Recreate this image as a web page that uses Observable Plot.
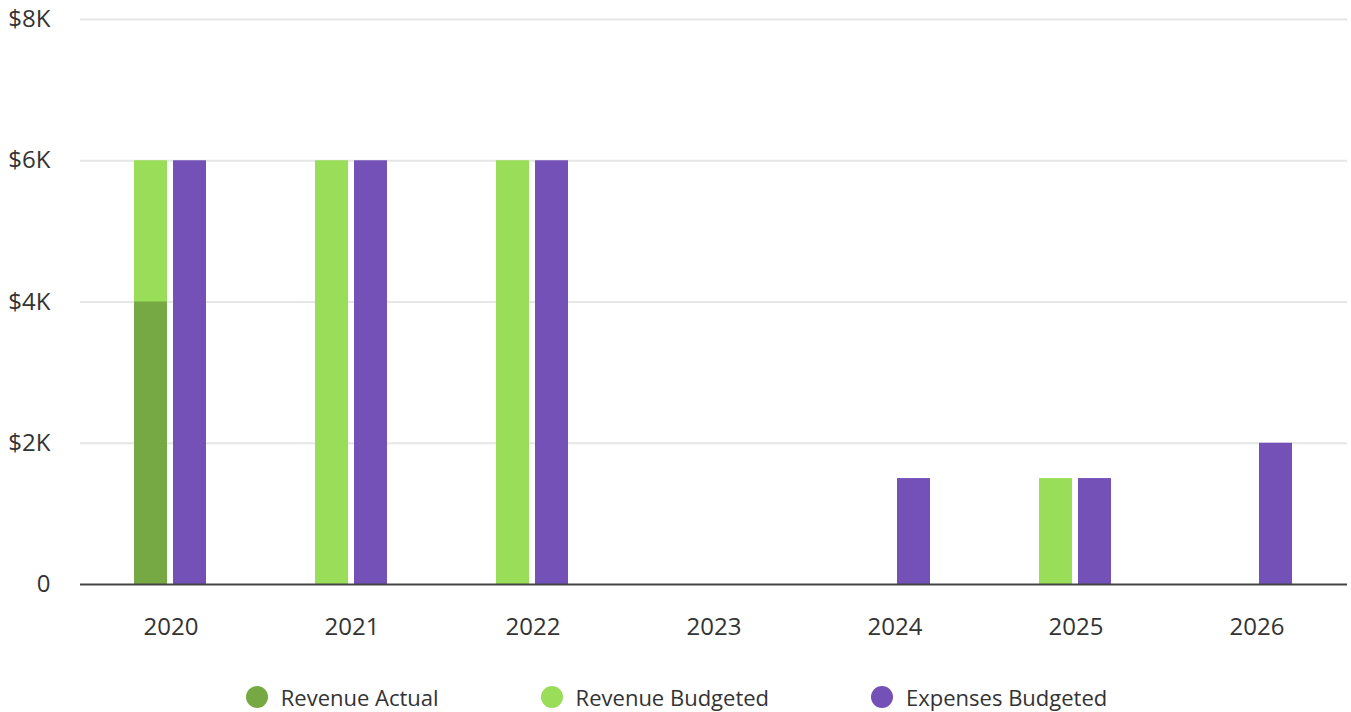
<!DOCTYPE html>
<html>
<head>
<meta charset="utf-8">
<script src="https://cdn.jsdelivr.net/npm/d3@7"></script>
<script src="https://cdn.jsdelivr.net/npm/@observablehq/plot@0.6"></script>
<style>
  html, body { margin: 0; padding: 0; background: #fff; }
  body { font-family: "Open Sans", sans-serif; color: #333; }
  #legend { display: flex; justify-content: center; gap: 102px; padding-top: 22px; font-size: 22px; line-height: 30px; padding-left: 2px; }
  .item { display: flex; align-items: center; }
  .dot { width: 22px; height: 22px; border-radius: 50%; margin-right: 13px; }
</style>
</head>
<body>
<div id="chart"></div>
<div id="legend"></div>
<script>
const years = ["2020", "2021", "2022", "2023", "2024", "2025", "2026"];
const revenueActual = [4000, null, null, null, null, null, null];
const revenueBudgeted = [6000, 6000, 6000, null, null, 1500, null];
const expensesBudgeted = [6000, 6000, 6000, null, 1500, 1500, 2000];
const yTicks = [0, 2000, 4000, 6000, 8000];
const seriesNames = ["Revenue Actual", "Revenue Budgeted", "Expenses Budgeted"];
const seriesColors = ["#76a843", "#99dd58", "#7351b7"];

const rows = [];
years.forEach((yr, i) => {
  if (revenueBudgeted[i] != null) rows.push({year: yr, slot: "Revenue", series: "Revenue Budgeted", value: revenueBudgeted[i]});
  if (revenueActual[i] != null) rows.push({year: yr, slot: "Revenue", series: "Revenue Actual", value: revenueActual[i]});
  if (expensesBudgeted[i] != null) rows.push({year: yr, slot: "Expenses", series: "Expenses Budgeted", value: expensesBudgeted[i]});
});
const budgetRows = rows.filter(d => d.series !== "Revenue Actual");
const actualRows = rows.filter(d => d.series === "Revenue Actual");
const gridRows = years.flatMap(yr => yTicks.map(t => ({year: yr, tick: t})));

const chart = Plot.plot({
  width: 1351,
  height: 660,
  marginLeft: 78,
  marginRight: 3,
  marginTop: 19,
  marginBottom: 76,
  style: {fontFamily: "Open Sans, sans-serif", fontSize: "24px", color: "#333", background: "#fff"},
  fx: {domain: years, padding: 0, label: null, axis: "bottom", tickSize: 0, tickPadding: 33},
  x: {domain: ["Revenue", "Expenses"], paddingInner: 0.15, paddingOuter: 1.3425, axis: null},
  y: {domain: [0, 8000], ticks: yTicks, label: null, tickSize: 0, tickPadding: 30,
      tickFormat: d => d === 0 ? "0" : `$${d / 1000}K`},
  color: {domain: seriesNames, range: seriesColors},
  marks: [
    Plot.ruleY(gridRows.filter(d => d.tick > 0), {fx: "year", y: "tick", stroke: "#e6e6e6", strokeWidth: 2}),
    Plot.barY(budgetRows, {fx: "year", x: "slot", y: "value", fill: "series"}),
    Plot.barY(actualRows, {fx: "year", x: "slot", y: "value", fill: "series"}),
    Plot.ruleY(gridRows.filter(d => d.tick === 0), {fx: "year", y: "tick", stroke: "#444", strokeWidth: 2})
  ]
});
document.getElementById("chart").appendChild(chart);

const legend = document.getElementById("legend");
seriesNames.forEach((name, i) => {
  const item = document.createElement("div");
  item.className = "item";
  const dot = document.createElement("span");
  dot.className = "dot";
  dot.style.background = seriesColors[i];
  const label = document.createElement("span");
  label.textContent = name;
  item.appendChild(dot);
  item.appendChild(label);
  legend.appendChild(item);
});
</script>
</body>
</html>
